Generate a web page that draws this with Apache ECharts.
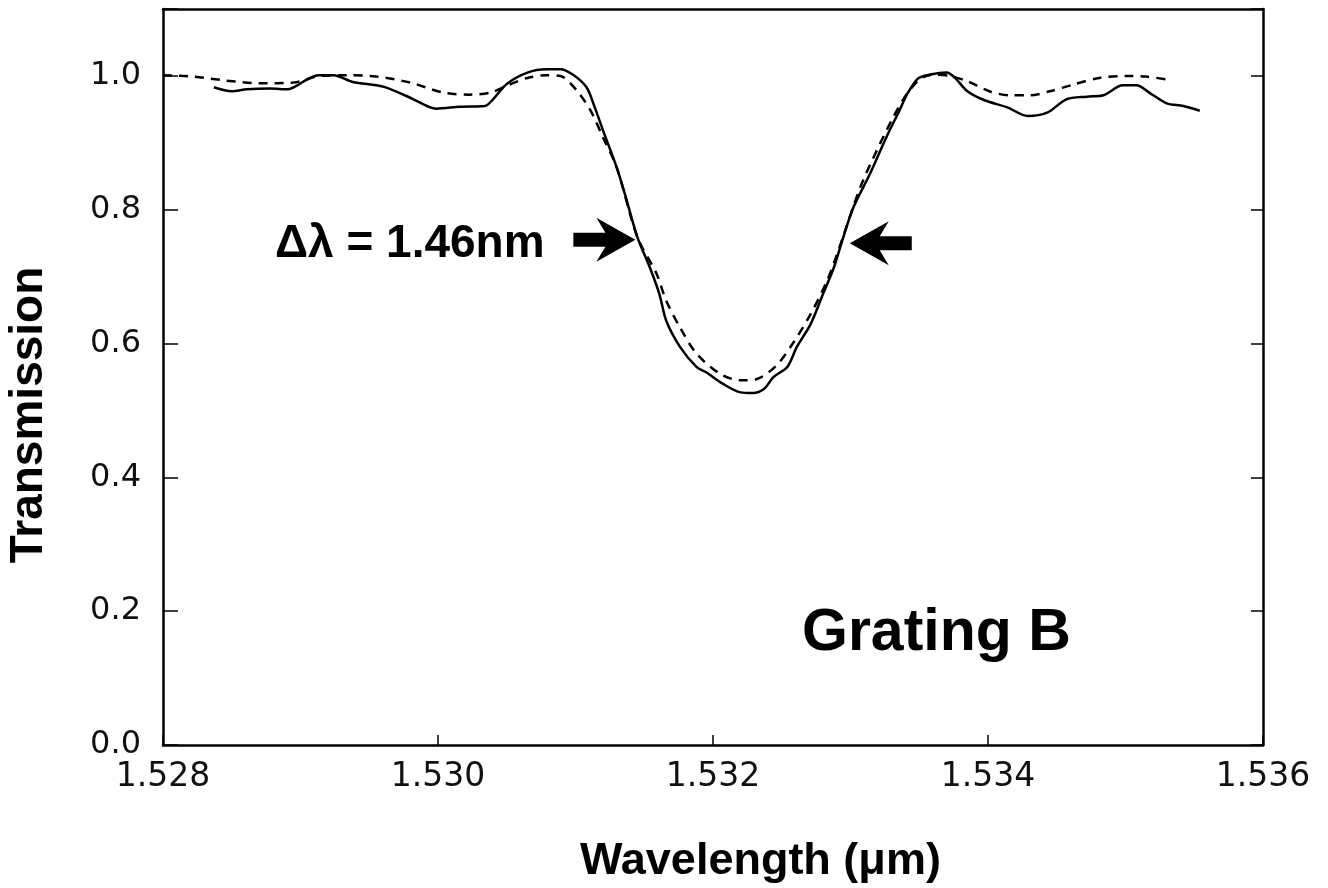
<!DOCTYPE html>
<html><head><meta charset="utf-8">
<script src="https://cdn.jsdelivr.net/npm/echarts@6/dist/echarts.min.js"></script>
<style>html,body{margin:0;padding:0;background:#fff}#c{width:1328px;height:888px}</style>
</head><body><div id="c"></div>
<script>
// Measured transmission (solid)
const measuredWavelength = [1.52837,1.52850,1.52861,1.52878,1.52891,1.52897,1.52905,1.52913,1.52924,1.52938,1.52960,1.52977,1.52992,1.52999,1.53016,1.53034,1.53040,1.53050,1.53065,1.53079,1.53089,1.53098,1.53108,1.53114,1.53121,1.53130,1.53136,1.53145,1.53154,1.53161,1.53166,1.53176,1.53188,1.53195,1.53207,1.53220,1.53229,1.53237,1.53244,1.53254,1.53261,1.53271,1.53280,1.53288,1.53294,1.53302,1.53314,1.53326,1.53336,1.53341,1.53349,1.53358,1.53370,1.53376,1.53385,1.53397,1.53414,1.53429,1.53443,1.53457,1.53472,1.53484,1.53498,1.53508,1.53518,1.53530,1.53542,1.53554];
const measuredTransmission = [0.983,0.977,0.980,0.981,0.980,0.985,0.995,1.001,1.001,0.991,0.984,0.970,0.955,0.951,0.954,0.955,0.965,0.988,1.005,1.010,1.010,1.002,0.983,0.953,0.913,0.863,0.823,0.759,0.714,0.674,0.634,0.595,0.565,0.557,0.540,0.527,0.526,0.532,0.550,0.565,0.595,0.629,0.674,0.714,0.754,0.803,0.853,0.908,0.950,0.972,0.996,1.002,1.005,0.997,0.977,0.964,0.953,0.940,0.945,0.965,0.969,0.971,0.986,0.986,0.974,0.959,0.955,0.948];
// Fitted transmission (dashed)
const fitWavelength = [1.52800,1.52822,1.52846,1.52871,1.52895,1.52914,1.52934,1.52955,1.52980,1.53004,1.53023,1.53038,1.53052,1.53065,1.53079,1.53089,1.53101,1.53111,1.53120,1.53130,1.53145,1.53159,1.53166,1.53176,1.53188,1.53205,1.53220,1.53232,1.53246,1.53258,1.53271,1.53283,1.53292,1.53307,1.53319,1.53331,1.53341,1.53351,1.53360,1.53372,1.53385,1.53401,1.53416,1.53431,1.53445,1.53462,1.53481,1.53501,1.53515,1.53532];
const fitTransmission = [1.001,0.999,0.993,0.989,0.990,1.000,1.001,0.999,0.990,0.975,0.972,0.975,0.987,0.997,1.001,1.000,0.978,0.948,0.908,0.863,0.759,0.704,0.664,0.624,0.585,0.555,0.545,0.547,0.567,0.600,0.644,0.694,0.744,0.833,0.888,0.938,0.973,0.996,1.002,1.000,0.992,0.977,0.971,0.971,0.977,0.987,0.997,1.000,0.999,0.994];
// Axis ticks
const xTickValues = [1.528,1.530,1.532,1.534,1.536];
const yTickValues = [0.0,0.2,0.4,0.6,0.8,1.0];
// Annotations
const fwhmLeftEdge = [1.53145,0.755];
const fwhmRightEdge = [1.53298,0.750];
const fwhmText = 'Δλ = 1.46nm';
const gratingText = 'Grating B';
const xTitle = 'Wavelength (μm)';
const yTitle = 'Transmission';

const measured = measuredWavelength.map((x,i)=>[x, measuredTransmission[i]]);
const fit = fitWavelength.map((x,i)=>[x, fitTransmission[i]]);

const arrowRight = 'path://M0,15 L32,15 L23,0 L62,22 L23,44 L32,29 L0,29 Z';
const arrowLeft = 'path://M62,15 L30,15 L39,0 L0,22 L39,44 L30,29 L62,29 Z';

const tickFont = '"DejaVu Sans", sans-serif';
const boldFont = '"Liberation Sans", Arial, sans-serif';

const chart = echarts.init(document.getElementById('c'), null, {renderer:'canvas'});
const axisLineStyle = {color:'#000', width:2.5};
chart.setOption({
  animation:false,
  backgroundColor:'#fff',
  grid:{left:163, right:65, top:9, bottom:143, containLabel:false},
  xAxis:[{
    type:'value', position:'bottom', min:xTickValues[0], max:xTickValues[xTickValues.length-1], interval:0.002,
    axisLine:{show:true, onZero:false, lineStyle:axisLineStyle},
    axisTick:{show:true, inside:true, length:10, lineStyle:{color:'#000', width:1.5}},
    axisLabel:{show:true, margin:16, fontFamily:tickFont, fontWeight:'normal', fontSize:33, color:'#111',
      formatter:v=>{const t=xTickValues.find(u=>Math.abs(u-v)<1e-7);return t===undefined?'':t.toFixed(3);}},
    splitLine:{show:false}
  },{
    type:'value', position:'top', min:xTickValues[0], max:xTickValues[xTickValues.length-1], interval:0.002,
    axisLine:{show:true, onZero:false, lineStyle:axisLineStyle},
    axisTick:{show:false}, axisLabel:{show:false}, splitLine:{show:false}
  }],
  yAxis:[{
    type:'value', position:'left', min:0, max:1.1, interval:0.2,
    axisLine:{show:true, onZero:false, lineStyle:axisLineStyle},
    axisTick:{show:true, inside:true, length:15, lineStyle:{color:'#000', width:1.5}},
    axisLabel:{show:true, margin:22, fontFamily:tickFont, fontWeight:'normal', fontSize:32, color:'#111',
      formatter:v=>{const t=yTickValues.find(u=>Math.abs(u-v)<1e-7);return t===undefined?'':t.toFixed(1);}},
    splitLine:{show:false}
  },{
    type:'value', position:'right', min:0, max:1.1, interval:0.2,
    axisLine:{show:true, onZero:false, lineStyle:axisLineStyle},
    axisTick:{show:true, inside:true, length:12, lineStyle:{color:'#000', width:1.5}},
    axisLabel:{show:false}, splitLine:{show:false}
  }],
  series:[{
    name:'measured', type:'line', data:measured, showSymbol:false, symbol:'none', smooth:0.3,
    lineStyle:{color:'#000', width:2.5, type:'solid'},
    markPoint:{
      symbolKeepAspect:false,
      label:{show:false},
      itemStyle:{color:'#000'},
      data:[
        {coord:fwhmLeftEdge, symbol:arrowRight, symbolSize:[62,44], symbolOffset:[-33,0]},
        {coord:fwhmRightEdge, symbol:arrowLeft, symbolSize:[62,44], symbolOffset:[33,0]}
      ]
    }
  },{
    name:'fit', type:'line', data:fit, showSymbol:false, symbol:'none', smooth:0.3,
    lineStyle:{color:'#000', width:2.5, type:[9,7]}
  }],
  graphic:[
    {type:'text', style:{x:275, y:244, text:fwhmText, font:'bold 46px '+boldFont, fill:'#000', textAlign:'left', textVerticalAlign:'middle'}},
    {type:'text', style:{x:802, y:634, text:gratingText, font:'bold 59px '+boldFont, fill:'#000', textAlign:'left', textVerticalAlign:'middle'}},
    {type:'text', style:{x:580, y:862, text:xTitle, font:'bold 45px '+boldFont, fill:'#000', textAlign:'left', textVerticalAlign:'middle'}},
    {type:'text', x:29, y:415, rotation:Math.PI/2, style:{x:0, y:0, text:yTitle, font:'bold 46px '+boldFont, fill:'#000', textAlign:'center', textVerticalAlign:'middle'}}
  ]
});
</script></body></html>
